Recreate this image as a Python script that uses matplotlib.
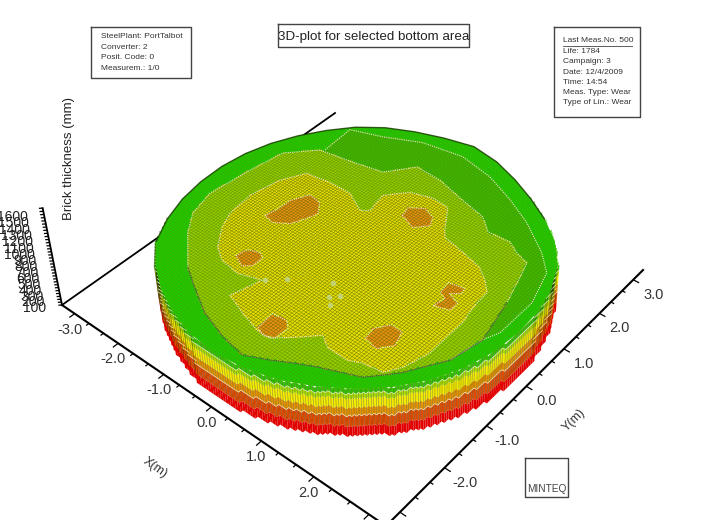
import numpy as np
import matplotlib
matplotlib.use('Agg')
import matplotlib.pyplot as plt
from matplotlib.collections import PolyCollection, LineCollection
from matplotlib.patches import Polygon
from matplotlib.path import Path

plt.rcParams['font.family'] = ['Liberation Sans', 'DejaVu Sans']

# rim of the bottom, radius (m) read every 10 degrees
rim_angle = list(range(0, 360, 10))
rim_radius = [3.10, 3.12, 3.14, 3.15, 3.12, 3.06, 3.02, 3.03, 3.08, 3.12, 3.03, 2.98,
              2.96, 2.93, 2.88, 2.86, 2.86, 2.87, 2.89, 2.92, 2.97, 3.03, 3.10, 3.10,
              3.10, 3.10, 3.12, 3.12, 3.11, 3.10, 3.08, 3.08, 3.09, 3.10, 3.10, 3.10]

# contours, in metres
medium_x = [-1.87, -1.91, -1.35, -0.73, 0.02, 0.68, 1.27, 1.80, 2.38, 2.70, 2.90, 2.90, 2.79, 2.67]
medium_y = [1.44, 2.13, 2.34, 2.65, 2.78, 2.64, 2.38, 2.09, 1.66, 1.33, 0.65, -0.16, -0.44, -1.06]
olive_x = [-1.58, -2.14, -2.42, -2.56, -2.47, -2.36, -1.94, -1.36, -0.75, -0.40, 0.10, 0.62, 1.18,
           1.46, 1.86, 2.09, 2.34, 2.44, 2.61, 2.79, 2.67, 2.28, 1.93, 1.30, 0.99, 0.70, 0.34,
           -0.13, -0.68, -1.27]
olive_y = [-2.09, -1.54, -1.15, -0.62, 0.23, 0.92, 1.38, 1.48, 1.61, 2.08, 2.05, 1.90, 1.76,
           1.52, 1.55, 1.41, 1.32, 1.00, 0.41, -0.44, -1.06, -1.71, -2.11, -2.38, -2.54, -2.71, -2.89,
           -2.81, -2.63, -2.29]
yellow_x = [-1.55, -1.83, -1.97, -2.03, -1.92, -1.70, -1.25, -0.82, -0.42, -0.30, -0.38, -0.09, 0.29,
            0.61, 0.91, 1.01, 1.44, 1.84, 2.07, 2.25, 2.28, 2.35, 2.35, 2.36, 2.24, 2.08, 1.75,
            1.54, 1.16, 0.95, 0.72, 0.40, 0.15, -0.25, -0.66, -0.52, -0.91, -1.29]
yellow_y = [-1.47, -1.09, -0.76, -0.23, 0.36, 0.78, 0.85, 0.85, 0.63, 0.73, 1.15, 1.50, 1.62,
            1.59, 1.12, 0.99, 0.89, 0.78, 0.60, 0.41, 0.02, -0.33, -0.72, -1.13, -1.59, -1.85, -1.90,
            -2.00, -1.99, -1.85, -2.09, -2.39, -2.39, -2.27, -2.12, -1.57, -1.70, -1.64]

# worn spots
spot1_x = [-1.51, -1.47, -1.45, -1.30, -1.05, -0.89, -0.95, -1.07, -1.31]
spot1_y = [-0.44, -0.25, 0.09, 0.41, 0.36, 0.14, -0.06, -0.33, -0.49]
spot2_x = [-1.21, -1.17, -0.97, -0.86, -0.85, -0.98]
spot2_y = [-1.42, -1.21, -1.13, -1.19, -1.42, -1.53]
spot3_x = [0.12, 0.08, 0.35, 0.47, 0.45, 0.29]
spot3_y = [-2.34, -1.99, -1.96, -2.07, -2.33, -2.41]
spot4_x = [1.46, 1.42, 1.58, 1.79, 1.88, 1.72]
spot4_y = [-1.50, -1.27, -1.03, -1.06, -1.33, -1.55]
spot5_x = [0.17, 0.12, 0.34, 0.57, 0.66, 0.48]
spot5_y = [0.97, 1.18, 1.34, 1.25, 1.06, 0.85]
spot6_x = [1.80, 1.84, 1.71, 1.67, 1.94, 1.97, 1.83, 2.05, 2.05]
spot6_y = [-0.33, -0.10, -0.04, 0.21, 0.27, 0.15, 0.03, -0.06, -0.25]

speck_x = [0.35, 0.61, 0.62, -0.48, -0.24, 0.50]
speck_y = [-0.93, -1.08, -1.32, -1.54, -1.31, -1.20]

# thickness (mm) per zone: rim, medium green, olive, yellow, orange
zone_thickness = [790, 785, 780, 775, 770]
zone_colors = ['#22c800', '#40b800', '#94cc00', '#e6dc00', '#e89010']
zone_mesh = [0.12, 0.18, 0.25, 0.42, 0.35]

wall_levels = [0, 160, 340, 470, 620, 700]
wall_colors = ['#e00000', '#e04c00', '#e49400', '#f4ec00', '#a8dc00', '#34c400']

x_ticks = [-3.0, -2.0, -1.0, 0.0, 1.0, 2.0, 3.0]
y_ticks = [-3.0, -2.0, -1.0, 0.0, 1.0, 2.0, 3.0]
z_ticks = list(range(100, 1700, 100))

info_left = ['SteelPlant: PortTalbot', 'Converter: 2', 'Posit. Code: 0', 'Measurem.: 1/0']
info_right = ['Last Meas.No. 500', 'Life: 1784', 'Campaign: 3', 'Date: 12/4/2009',
              'Time: 14:54', 'Meas. Type: Wear', 'Type of Lin.: Wear']

LIM = 3.3
STEP = 0.05


def project(x, y, z=0):
    # perspective camera, result in picture pixels
    u = (np.asarray(x, dtype=float) + LIM) / (2 * LIM)
    v = (np.asarray(y, dtype=float) + LIM) / (2 * LIM)
    k = -3.2e-5 * np.asarray(z, dtype=float)
    w = -0.1443 * u + 0.1724 * v + 1 + k
    px = (268.3 * u + 330.8 * v + 62 + k * 420) / w
    py = (145.1 * u - 172.5 * v + 305 + k * 2100) / w
    return px, py


def poly(xs, ys, z):
    px, py = project(xs, ys, z)
    return np.column_stack([px, py])


fig = plt.figure(figsize=(7.2, 5.2), dpi=100)
ax = fig.add_axes([0, 0, 1, 1])
ax.set_xlim(0, 720)
ax.set_ylim(520, 0)
ax.axis('off')

# axes behind the disc
ax.plot(*project([-LIM, -LIM], [-LIM, LIM]), color='black', lw=1.3, zorder=1)
ax.plot(*project([-LIM, LIM], [-LIM, -LIM]), color='black', lw=1.5, zorder=1)
ax.plot(*project([LIM, LIM], [-LIM, LIM]), color='black', lw=1.5, zorder=1)
ax.plot(*project([-LIM, -LIM], [-LIM, -LIM], [0, 1600]), color='black', lw=1.3, zorder=1)

tick_lines = []
for t in np.arange(-9, 10) / 3:
    size = 0.11 if abs(t - round(t)) < 0.01 else 0.06
    tick_lines.append(poly([t, t], [-LIM, -LIM - size], 0))
    tick_lines.append(poly([LIM, LIM + size], [t, t], 0))
for z in range(0, 1650, 50):
    tick_lines.append(poly([-LIM, -LIM - 0.04], [-LIM, -LIM - 0.04], z))
ax.add_collection(LineCollection(tick_lines, colors='black', linewidths=0.9, zorder=1))

for t in x_ticks:
    px, py = project(t, -LIM)
    ax.text(px - 5, py + 16, '%.1f' % t, ha='center', va='center', fontsize=10.5, color='#333333')
for t in y_ticks:
    px, py = project(LIM, t)
    ax.text(px + 20, py + 15, '%.1f' % t, ha='center', va='center', fontsize=10.5, color='#333333')
for z in z_ticks:
    px, py = project(-LIM, -LIM, z)
    ax.text(px - 15, py + 9, str(z), ha='right', va='center', fontsize=10, color='#222222')

ax.text(155, 468, 'X(m)', rotation=-35, ha='center', va='center', fontsize=9, color='#333333')
ax.text(574, 420, 'Y(m)', rotation=45, ha='center', va='center', fontsize=9, color='#333333')
ax.text(69, 158, 'Brick thickness (mm)', rotation=90, ha='center', va='center', fontsize=9.5, color='#222222')

# sort the grid cells into zones
rad = np.radians(rim_angle)
rim_x = np.array(rim_radius) * np.cos(rad)
rim_y = np.array(rim_radius) * np.sin(rad)
edges = np.arange(-3.3, 3.3 + STEP / 2, STEP)
n = len(edges) - 1
cx, cy = np.meshgrid(edges[:-1] + STEP / 2, edges[:-1] + STEP / 2, indexing='ij')
centres = np.column_stack([cx.ravel(), cy.ravel()])
inside = Path(np.column_stack([rim_x, rim_y])).contains_points(centres).reshape(n, n)
# a little wider so the clip to the rim leaves no gaps
covered = Path(np.column_stack([rim_x * 1.03, rim_y * 1.03])).contains_points(centres).reshape(n, n)
zone = np.zeros((n, n), dtype=int)
zone[Path(np.column_stack([medium_x, medium_y])).contains_points(centres).reshape(n, n)] = 1
zone[Path(np.column_stack([olive_x, olive_y])).contains_points(centres).reshape(n, n)] = 2
zone[Path(np.column_stack([yellow_x, yellow_y])).contains_points(centres).reshape(n, n)] = 3
spots = [(spot1_x, spot1_y), (spot2_x, spot2_y), (spot3_x, spot3_y),
         (spot4_x, spot4_y), (spot5_x, spot5_y), (spot6_x, spot6_y)]
for sx, sy in spots:
    zone[Path(np.column_stack([sx, sy])).contains_points(centres).reshape(n, n)] = 4

# outer wall, only the faces that look towards the viewer
faces = []
for i in range(n):
    for j in range(n):
        if not inside[i, j] or edges[i] - edges[j] < -1.2:
            continue
        top = zone_thickness[zone[i, j]]
        if i + 1 >= n or not inside[i + 1, j]:
            faces.append(([edges[i + 1], edges[i + 1]], [edges[j], edges[j + 1]], top))
        if j == 0 or not inside[i, j - 1]:
            faces.append(([edges[i], edges[i + 1]], [edges[j], edges[j]], top))
faces.sort(key=lambda f: f[0][0] - f[1][0])

wall_polys, wall_cols, side_lines, band_lines = [], [], [], []
for fx, fy, top in faces:
    for k, level in enumerate(wall_levels):
        upper = wall_levels[k + 1] if k + 1 < len(wall_levels) else top
        a = poly(fx, fy, level)
        b = poly(fx, fy, upper)
        wall_polys.append(np.vstack([a, b[::-1]]))
        wall_cols.append(wall_colors[k])
    side_lines.append(poly([fx[0], fx[0]], [fy[0], fy[0]], [wall_levels[1], top]))
    band_lines.append(poly(fx, fy, wall_levels[2]))
    band_lines.append(poly(fx, fy, wall_levels[5]))
ax.add_collection(PolyCollection(wall_polys, facecolors=wall_cols, edgecolors='none', zorder=2))
ax.add_collection(LineCollection(side_lines, colors=[(0.1, 0.1, 0, 0.38)], linewidths=0.5, zorder=3))
ax.add_collection(LineCollection(band_lines, colors=[(1, 1, 0.9, 0.8)], linewidths=0.5, zorder=3))

# backing under the mesh so the seams between cells stay green
ax.add_patch(Polygon(poly(rim_x, rim_y, 785), closed=True, facecolor='#6cc800', edgecolor='none', zorder=3.5))

# top surface mesh
cells, cell_cols, mesh_cols = [], [], []
for i in range(n):
    for j in range(n):
        if covered[i, j]:
            cells.append(poly([edges[i], edges[i + 1], edges[i + 1], edges[i]],
                              [edges[j], edges[j], edges[j + 1], edges[j + 1]],
                              zone_thickness[zone[i, j]]))
            cell_cols.append(zone_colors[zone[i, j]])
            mesh_cols.append((0.1, 0.1, 0, zone_mesh[zone[i, j]]))
surface = PolyCollection(cells, facecolors=cell_cols, edgecolors=mesh_cols, linewidths=0.25, zorder=4)
ax.add_collection(surface)
surface.set_clip_path(Polygon(poly(rim_x, rim_y, 785), closed=True, transform=ax.transData))

# dark back edge of the rim
ax.plot(*project(rim_x[5:23], rim_y[5:23], 785), color='#143000', lw=1.0, alpha=0.75, zorder=5)

# contour lines
contour_style = dict(color='#e6e6cc', lw=0.8, ls=(0, (1, 1)), zorder=5)
ax.plot(*project(medium_x, medium_y, 785), **contour_style)
ax.plot(*project(olive_x + olive_x[:1], olive_y + olive_y[:1], 780), **contour_style)
ax.plot(*project(yellow_x + yellow_x[:1], yellow_y + yellow_y[:1], 775), **contour_style)
for sx, sy in spots:
    ax.plot(*project(sx + sx[:1], sy + sy[:1], 770), **contour_style)
ax.plot(*project(olive_x[18:] + olive_x[:1], olive_y[18:] + olive_y[:1], 780),
        color='#203000', lw=0.9, alpha=0.55, zorder=5)
ax.scatter(*project(speck_x, speck_y, 775), s=16, color='#c4d890', alpha=0.8, linewidths=0, zorder=5)


# text boxes
def box(x0, y0, x1, y1):
    ax.plot([x0, x1, x1, x0, x0], [y0, y0, y1, y1, y0], color='#444444', lw=1.0, zorder=6)


box(91, 27, 191, 78)
for y, line in zip([37, 47.5, 57.5, 68], info_left):
    ax.text(101, y, line, ha='left', va='center', fontsize=6.0, color='#333333')
box(554, 27, 640, 117)
for y, line in zip([41, 51.5, 61.5, 72, 82, 92.5, 102.5], info_right):
    ax.text(563, y, line, ha='left', va='center', fontsize=6.0, color='#333333')
ax.plot([563, 632], [45.5, 45.5], color='#444444', lw=0.6)
box(278, 24, 469, 47)
ax.text(373.5, 37, '3D-plot for selected bottom area', ha='center', va='center', fontsize=9.6, color='#222222')
box(525, 458, 568, 497)
ax.text(546.5, 489, 'MINTEQ', ha='center', va='center', fontsize=7.3, color='#444444')

fig.savefig('out.png', dpi=100)
